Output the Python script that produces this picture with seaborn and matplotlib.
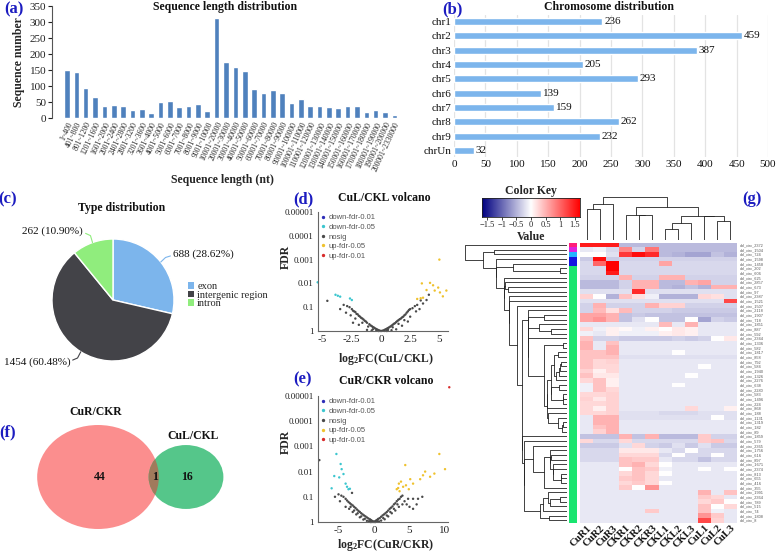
import numpy as np
import pandas as pd
import matplotlib
matplotlib.use("Agg")
import matplotlib.pyplot as plt
import seaborn as sns
from matplotlib.patches import Ellipse, Patch
from matplotlib.lines import Line2D
from matplotlib.colors import LinearSegmentedColormap, ListedColormap

# ---------------- data ----------------
len_bins = ["1~400", "401~800", "801~1200", "1201~1600", "1601~2000", "2001~2400", "2401~2800",
            "2801~3200", "3201~3600", "3601~4000", "4001~5000", "5001~6000", "6001~7000",
            "7001~8000", "8001~9000", "9001~10000", "10001~20000", "20001~30000", "30001~40000",
            "40001~50000", "50001~60000", "60001~70000", "70001~80000", "80001~90000",
            "90001~100000", "100001~110000", "110001~120000", "120001~130000", "130001~140000",
            "140001~150000", "150001~160000", "160001~170000", "170001~180000", "180001~190000",
            "190001~200000", "200001~2330000"]
len_counts = [150, 145, 95, 67, 38, 41, 39, 26, 29, 17, 51, 52, 35, 38, 45, 22, 311, 174, 160, 146,
              90, 78, 86, 78, 47, 60, 38, 39, 35, 32, 36, 36, 20, 24, 18, 8]

chr_names = ["chr1", "chr2", "chr3", "chr4", "chr5", "chr6", "chr7", "chr8", "chr9", "chrUn"]
chr_counts = [236, 459, 387, 205, 293, 139, 159, 262, 232, 32]

type_names = ["exon", "intergenic region", "intron"]
type_counts = [688, 1454, 262]
type_pcts = ["28.62%", "60.48%", "10.90%"]

vol_groups = ["down-fdr-0.01", "down-fdr-0.05", "nosig", "up-fdr-0.05", "up-fdr-0.01"]

d_nosig_lfc = [0, 0.1, -0.1, 0.2, -0.2, 0.3, -0.3, 0.4, -0.4, 0.5, -0.5, 0.6, -0.6, 0.7, -0.7, 0.8, -0.8,
               0.9, -0.9, 1.0, -1.0, 1.1, -1.2, 1.2, 1.3, -1.3, 1.4, -1.4, 1.5, -1.5, 1.6, -1.6, 1.7, -1.7,
               1.8, -1.8, 1.9, -1.9, 2.0, -2.0, 2.1, -2.1, 2.2, -2.2, 2.3, -2.3, 2.4, -2.4, 2.5, -2.5,
               -2.7, 2.7, 2.9, -2.9, 3.1, -3.2, 0.3, -0.4, 0.6, -0.7, 1.0, -1.1, 1.5, -1.6, 2.0, -2.2,
               2.5, -2.6, 3.0, -3.0, 3.3, -3.5, -4.6, 3.4, -1.2, 1.3, -0.2, 0.5, -0.8, 0.9, 1.8, -1.9,
               2.3, -2.4, 3.6, 3.9, 4.1]
d_nosig_fdr = [1, 0.98, 0.97, 0.95, 0.93, 0.9, 0.88, 0.85, 0.83, 0.8, 0.78, 0.75, 0.72, 0.7, 0.68, 0.65,
               0.62, 0.6, 0.58, 0.55, 0.52, 0.5, 0.45, 0.47, 0.42, 0.4, 0.38, 0.37, 0.35, 0.33, 0.32, 0.3,
               0.3, 0.28, 0.27, 0.25, 0.25, 0.23, 0.22, 0.2, 0.2, 0.19, 0.17, 0.16, 0.15, 0.15, 0.13,
               0.14, 0.12, 0.12, 0.1, 0.11, 0.09, 0.09, 0.08, 0.08, 0.99, 0.95, 0.9, 0.85, 0.7, 0.65,
               0.5, 0.45, 0.35, 0.3, 0.25, 0.22, 0.15, 0.17, 0.12, 0.12, 0.054, 0.052, 0.9, 0.85, 1.0,
               1.0, 0.95, 0.93, 0.6, 0.55, 0.4, 0.45, 0.07, 0.05, 0.03]
d_down05_lfc = [-5.43, -3.7, -3.5, -2.66, -2.5, -3.9]
d_down05_fdr = [0.009, 0.033, 0.036, 0.043, 0.05, 0.03]
d_up05_lfc = [3.5, 3.9, 3.6, 3.1, 3.4, 5.0, 4.2, 4.46, 4.6, 5.05, 5.6, 4.9, 5.3]
d_up05_fdr = [0.01, 0.019, 0.04, 0.045, 0.042, 0.001, 0.0095, 0.012, 0.02, 0.024, 0.02, 0.015, 0.035]

e_nosig_lfc = [0, 0.1, -0.1, 0.2, -0.2, 0.3, -0.3, 0.4, -0.4, 0.5, -0.5, 0.6, -0.6, 0.8, -0.8, 1.0, -1.0,
               1.2, -1.2, 1.4, -1.4, 1.6, -1.6, 1.8, -1.8, 2.0, -2.0, 2.2, -2.2, 2.4, -2.4, 2.6, -2.6,
               2.8, -2.8, 3.0, -3.0, 3.2, -3.2, 3.4, -3.4, 3.6, -3.6, 3.8, -3.8, 4.0, -4.0, -4.3, -4.6,
               -5.0, -5.5, 4.3, 4.6, 5.0, -0.5, 0.5, -1.0, 1.0, -1.5, 1.5, -2.0, 2.0, -2.5, 2.5, -3.0,
               3.0, -3.5, 3.5, -4.0, 4.0, 0.7, -0.7, 1.3, -1.3, 1.8, -1.8, 2.3, -2.3, 2.8, -2.8, 3.3,
               -3.3, -7.7, 0.2, -0.3, 5.5, 4.8, -4.8, -3.1, 5.5, 6.2, 6.8, 6.0]
e_nosig_fdr = [1, 0.97, 0.96, 0.92, 0.94, 0.88, 0.9, 0.85, 0.86, 0.8, 0.82, 0.75, 0.78, 0.7, 0.72, 0.62,
               0.66, 0.55, 0.6, 0.5, 0.55, 0.45, 0.5, 0.4, 0.45, 0.35, 0.4, 0.3, 0.36, 0.27, 0.32, 0.24,
               0.28, 0.2, 0.25, 0.18, 0.22, 0.15, 0.2, 0.13, 0.18, 0.12, 0.16, 0.1, 0.14, 0.09, 0.12,
               0.1, 0.09, 0.08, 0.1, 0.15, 0.2, 0.25, 1.0, 0.98, 0.9, 0.88, 0.8, 0.78, 0.65, 0.6, 0.5,
               0.45, 0.4, 0.35, 0.3, 0.25, 0.25, 0.2, 0.95, 0.93, 0.7, 0.75, 0.55, 0.6, 0.4, 0.45, 0.3,
               0.35, 0.2, 0.25, 0.0035, 1.0, 1.0, 0.3, 0.12, 0.15, 0.07, 0.12, 0.12, 0.1, 0.2]
e_down05_lfc = [-5.3, -4.7, -4.56, -4.3, -5.6, -4.9, -3.8, -3.4, -5.97, -4.0, -3.6]
e_down05_fdr = [0.002, 0.005, 0.008, 0.0125, 0.015, 0.017, 0.04, 0.048, 0.046, 0.03, 0.05]
e_up05_lfc = [3.2, 3.5, 3.8, 4.1, 4.5, 5.1, 4.4, 6.9, 7.2, 7.9, 9.2, 6.5, 3.4, 3.6, 4.9, 8.5, 10.0, 5.5]
e_up05_fdr = [0.05, 0.03, 0.025, 0.04, 0.035, 0.02, 0.0055, 0.014, 0.01, 0.016, 0.002, 0.02, 0.045,
              0.06, 0.05, 0.012, 0.008, 0.03]
e_up01_lfc = [10.6]
e_up01_fdr = [0.0000045]

venn_names = ["CuR/CKR", "CuL/CKL"]
venn_only_R, venn_both, venn_only_L = 44, 1, 16

hm_cols = ["CuR1", "CuR2", "CuR3", "CKR1", "CKR2", "CKR3", "CKL1", "CKL2", "CKL3", "CuL1", "CuL2", "CuL3"]
hm_ids = [2372, 1504, 724, 1598, 1458, 202, 606, 625, 2857, 673, 97, 2387, 1521, 1507, 2118, 1907, 718,
          1851, 887, 592, 2344, 1336, 582, 1817, 858, 792, 584, 1940, 1326, 2276, 638, 2280, 583, 1496,
          224, 868, 188, 1131, 1319, 182, 89, 1859, 579, 2365, 1756, 616, 897, 1671, 2374, 813, 655,
          416, 355, 1991, 2364, 789, 515, 74, 1808, 8]
hm_row_cluster = [0, 1, 2, 3, 3] + [4] * 55
hm_values = [
    [1.5, 1.5, 1.5, -0.45, -0.45, -0.45, -0.45, -0.45, -0.45, -0.45, -0.45, -0.45],
    [-0.15, -0.1, -0.25, 0.8, -0.3, 0.9, -0.45, -0.45, -0.45, -0.45, -0.45, -0.45],
    [0.0, 0.0, -0.2, 1.3, 1.6, 1.4, -0.45, -0.5, -0.6, -0.6, -0.4, -0.5],
    [-0.35, 1.6, -0.35, -0.3, -0.3, -0.3, -0.3, -0.3, -0.3, -0.3, -0.3, -0.3],
    [-0.25, 1.0, 1.7, -0.25, -0.25, -0.25, 0.6, -0.25, -0.25, -0.25, -0.25, -0.25],
    [-0.25, -0.25, 1.7, -0.25, -0.25, -0.25, -0.25, -0.25, -0.25, -0.25, -0.25, -0.25],
    [-0.25, -0.25, 1.5, -0.25, -0.25, -0.25, -0.25, -0.25, -0.25, -0.25, -0.25, -0.25],
    [-0.3, -0.3, -0.3, 0.5, -0.3, -0.3, 0.5, 0.5, -0.3, -0.3, -0.3, -0.3],
    [-0.45, -0.45, -0.45, -0.3, 0.5, 0.5, -0.45, -0.45, 0.5, 0.6, -0.3, -0.3],
    [-0.45, -0.45, -0.45, -0.3, 0.5, 0.5, -0.45, -0.5, -0.4, -0.5, 0.5, 0.5],
    [-0.2, -0.2, -0.2, -0.2, 1.4, -0.2, -0.2, -0.2, -0.2, -0.2, -0.2, -0.2],
    [0.3, 0.0, -0.5, 0.4, 0.2, -0.1, -0.5, -0.5, -0.5, 0.25, 0.2, -0.2],
    [-0.2, -0.2, -0.2, -0.2, -0.2, -0.2, -0.2, -0.2, -0.2, -0.2, -0.2, 1.2],
    [-0.3, 0.5, -0.3, -0.3, -0.3, 0.5, 0.3, 0.3, -0.3, -0.3, -0.3, -0.3],
    [-0.3, 0.45, 0.2, 0.45, -0.3, -0.3, -0.3, -0.35, -0.35, -0.35, -0.35, -0.35],
    [0.6, 0.6, 0.5, -0.4, -0.35, -0.4, -0.4, -0.4, -0.4, -0.4, -0.4, -0.4],
    [0.6, 0.7, 0.5, -0.4, -0.2, 0.0, -0.4, -0.4, 0.0, -0.6, -0.3, -0.35],
    [-0.15, -0.15, -0.15, -0.15, -0.15, -0.15, 0.45, -0.15, 0.5, -0.15, -0.15, -0.15],
    [0.25, -0.1, 0.1, 0.05, -0.1, 0.1, 0.0, 0.15, 0.1, -0.15, -0.15, -0.15],
    [-0.1, -0.15, 0.1, -0.1, -0.1, -0.1, 0.1, 0.15, 0.1, -0.15, -0.15, -0.15],
    [0.4, -0.3, -0.3, -0.35, -0.35, -0.35, -0.35, -0.3, -0.35, -0.3, 0.0, 0.15],
    [0.5, -0.15, 0.4, -0.15, -0.15, -0.15, -0.15, -0.15, -0.15, -0.15, -0.15, -0.15],
    [0.5, -0.15, 0.5, -0.15, -0.15, -0.15, -0.15, -0.15, -0.15, -0.15, -0.15, -0.15],
    [0.4, 0.4, 0.5, -0.15, -0.15, -0.15, -0.15, 0.0, -0.15, -0.15, -0.15, -0.15],
    [0.4, 0.4, 0.4, -0.2, -0.2, -0.2, -0.2, -0.2, -0.2, -0.2, -0.2, -0.2],
    [0.4, 0.25, 0.3, -0.15, -0.15, -0.15, -0.15, -0.15, -0.15, -0.15, -0.15, -0.15],
    [0.4, 0.25, 0.25, -0.15, -0.15, -0.15, -0.15, -0.15, -0.15, 0.0, -0.15, -0.15],
    [0.3, 0.1, 0.25, -0.15, -0.15, -0.15, -0.15, -0.15, -0.15, -0.15, -0.15, -0.15],
    [0.4, 0.15, 0.15, -0.15, -0.15, -0.15, -0.15, -0.15, 0.0, -0.15, -0.15, -0.15],
    [0.25, 0.4, 0.1, -0.15, -0.15, -0.15, -0.15, -0.15, -0.15, -0.15, -0.15, -0.15],
    [-0.1, 0.4, 0.1, -0.15, -0.15, -0.15, -0.15, 0.0, -0.15, -0.15, -0.15, -0.15],
    [-0.1, 0.4, 0.25, -0.15, -0.15, -0.15, -0.15, -0.15, -0.15, -0.15, -0.15, -0.15],
    [0.25, 0.25, 0.3, -0.15, -0.15, -0.15, -0.15, -0.15, -0.15, -0.15, -0.15, -0.15],
    [0.3, 0.15, 0.3, -0.15, -0.15, -0.15, -0.15, -0.15, -0.15, -0.15, -0.15, -0.15],
    [0.25, 0.25, 0.3, -0.15, -0.15, -0.15, -0.15, -0.15, -0.15, -0.15, -0.15, -0.15],
    [0.25, 0.1, 0.3, -0.15, -0.15, -0.15, -0.15, -0.15, 0.25, -0.15, -0.15, 0.1],
    [0.25, 0.25, 0.3, -0.2, -0.2, -0.2, -0.25, -0.25, -0.25, -0.2, -0.2, -0.2],
    [-0.15, 0.5, 0.5, -0.2, -0.2, -0.2, -0.2, -0.2, -0.2, -0.2, 0.0, -0.2],
    [-0.15, 0.5, 0.5, -0.15, -0.15, -0.15, -0.15, -0.15, -0.15, -0.15, -0.15, -0.15],
    [-0.15, 0.4, 0.5, -0.15, -0.15, -0.15, -0.15, -0.15, -0.15, -0.15, -0.15, -0.15],
    [-0.15, 0.3, 0.5, -0.15, -0.15, -0.15, -0.15, -0.15, -0.15, -0.15, -0.15, -0.15],
    [-0.4, -0.4, -0.4, 0.5, -0.4, 0.5, -0.45, -0.45, -0.45, 0.35, -0.3, -0.3],
    [0.25, -0.25, -0.25, 0.25, -0.25, -0.25, -0.25, -0.25, -0.25, 0.35, 0.4, -0.25],
    [-0.35, -0.35, -0.35, -0.2, 0.25, -0.3, -0.35, -0.2, -0.35, -0.2, -0.35, -0.35],
    [-0.25, -0.25, -0.25, 0.15, 0.15, 0.15, -0.15, -0.25, 0.0, -0.25, -0.25, -0.25],
    [-0.25, -0.25, -0.25, 0.25, 0.25, 0.25, -0.25, 0.0, -0.25, -0.25, 0.0, -0.25],
    [-0.25, -0.25, -0.25, 0.4, 0.35, 0.35, -0.15, -0.25, -0.25, -0.4, -0.25, -0.25],
    [-0.15, -0.15, -0.15, 0.4, 0.5, 0.25, 0.0, -0.15, -0.15, -0.15, -0.15, -0.15],
    [-0.15, -0.15, -0.15, 0.0, 0.4, 0.35, -0.1, -0.15, -0.15, 0.0, -0.15, 0.0],
    [-0.15, -0.15, -0.15, 0.25, 0.4, 0.25, 0.0, -0.15, -0.15, -0.15, -0.15, -0.15],
    [-0.15, -0.15, -0.15, 0.35, 0.4, 0.25, -0.15, -0.15, -0.15, -0.15, -0.15, -0.15],
    [-0.15, -0.15, -0.15, 0.25, 0.35, 0.25, 0.0, -0.15, -0.15, -0.15, -0.15, -0.15],
    [-0.15, -0.15, -0.15, 0.35, 0.0, 0.7, -0.15, -0.15, -0.15, -0.15, -0.15, -0.15],
    [-0.15, -0.15, -0.15, -0.15, -0.15, -0.15, -0.15, -0.15, -0.15, 0.5, -0.15, 0.4],
    [-0.15, -0.15, -0.15, -0.15, -0.15, -0.15, -0.15, -0.15, -0.15, 0.35, 0.25, -0.15],
    [-0.15, -0.15, -0.15, -0.15, -0.15, -0.15, -0.15, -0.15, -0.15, 0.25, 0.35, 0.0],
    [-0.15, -0.15, -0.15, -0.15, -0.15, -0.15, -0.15, -0.15, -0.15, 0.4, 0.0, 0.25],
    [-0.15, -0.15, -0.15, -0.15, -0.15, 0.35, -0.15, -0.15, -0.15, 0.4, -0.1, -0.15],
    [-0.15, -0.15, -0.15, -0.15, -0.15, -0.15, -0.15, -0.15, -0.15, 0.7, 0.35, -0.15],
    [-0.15, -0.15, -0.15, -0.15, -0.15, -0.15, -0.15, -0.15, -0.15, 1.2, 0.3, -0.15],
]

# ---------------- style ----------------
sns.set_theme(style="white")
plt.rcParams["font.family"] = ["Liberation Serif", "DejaVu Sans"]
plt.rcParams["mathtext.fontset"] = "custom"
plt.rcParams["mathtext.rm"] = "Liberation Serif:bold"
plt.rcParams["mathtext.it"] = "Liberation Serif:bold"
plt.rcParams["mathtext.bf"] = "Liberation Serif:bold"
plt.rcParams["axes.unicode_minus"] = False

W, H = 778, 552
fig = plt.figure(figsize=(W / 100, H / 100), dpi=100, facecolor="white")


def axpx(x0, y0, x1, y1):
    return fig.add_axes([x0 / W, 1 - y1 / H, (x1 - x0) / W, (y1 - y0) / H])


def ftext(x, y, s, **kw):
    fig.text(x / W, 1 - y / H, s, **kw)


LETTER = dict(color="#1c1cc0", fontsize=12, fontweight="bold", ha="center", va="center")
TITLE = dict(fontsize=8.5, fontweight="bold", ha="center", va="center", color="#111")

# ---------------- (a) ----------------
axa = axpx(52, 6, 400, 118)
sns.barplot(x=len_bins, y=len_counts, color="#4F81BD", saturation=1, width=0.6, ax=axa)
axa.set_xlim(-1.6, 35.6)
axa.set_ylim(0, 350)
axa.set_yticks(range(0, 351, 50))
axa.tick_params(axis="y", labelsize=8, length=3, width=0.8, left=True, pad=1, colors="#222")
axa.tick_params(axis="x", labelsize=5.6, length=0, pad=2)
for lab in axa.get_xticklabels():
    lab.set_rotation(65)
    lab.set_ha("right")
    lab.set_rotation_mode("anchor")
for s in ["top", "right", "bottom"]:
    axa.spines[s].set_visible(False)
axa.spines["left"].set_color("#555")
axa.spines["left"].set_linewidth(0.8)
axa.set_ylabel("Sequence number", fontsize=8.5, fontweight="bold")
axa.yaxis.set_label_coords(-0.078, 0.5)
axa.set_xlabel("Sequence length (nt)", fontsize=8.5, fontweight="bold")
axa.xaxis.set_label_coords(0.49, -0.5)
ftext(225, 7, "Sequence length distribution", **TITLE)
ftext(14, 9, "(a)", **LETTER)

# ---------------- (b) ----------------
axb = axpx(454, 15, 768, 157)
sns.barplot(x=chr_counts, y=chr_names, orient="h", color="#7CB5EC", saturation=1, width=0.48, ax=axb)
axb.set_xlim(0, 500)
axb.set_ylim(9.45, -0.45)
axb.set_xticks(range(0, 501, 50))
axb.xaxis.grid(True, color="#E3E3E3", linewidth=0.9)
axb.set_axisbelow(True)
for s in axb.spines.values():
    s.set_visible(False)
axb.tick_params(axis="both", labelsize=8, length=0, pad=2, colors="#111")
axb.set_xlabel("")
axb.set_ylabel("")
for i, v in enumerate(chr_counts):
    axb.text(v + 3, i, str(v), va="center", ha="left", fontsize=8, color="#111")
ftext(609, 7, "Chromosome distribution", **TITLE)
ftext(452, 9, "(b)", **LETTER)

# ---------------- (c) pie ----------------
pie_colors = ["#7CB5EC", "#434348", "#90ED7D"]
axc = axpx(52, 239, 174, 361)
wedges, _ = axc.pie(type_counts, colors=pie_colors, startangle=90, counterclock=False,
                    radius=1, wedgeprops=dict(edgecolor="white", linewidth=1))
axc.set_xlim(-1, 1)
axc.set_ylim(-1, 1)
for w, n, p, col in zip(wedges, type_counts, type_pcts, pie_colors):
    ang = np.deg2rad((w.theta1 + w.theta2) / 2)
    c, s = np.cos(ang), np.sin(ang)
    axc.plot([c * 1.0, c * 1.1, c * 1.1 + np.sign(c) * 0.08], [s * 1.0, s * 1.12, s * 1.16],
             color=col, lw=0.8, clip_on=False)
    axc.text(c * 1.1 + np.sign(c) * 0.12, s * 1.2, f"{n} ({p})", fontsize=8,
             ha="left" if c > 0 else "right", va="center", color="#111", clip_on=False)
handles = [Patch(facecolor=c, edgecolor="none", label=l) for c, l in zip(pie_colors, type_names)]
leg = axc.legend(handles=handles, loc="center left", bbox_to_anchor=(1.08, 0.54), frameon=False,
                 fontsize=7.5, labelspacing=-0.05, handlelength=0.55, handleheight=0.55,
                 handletextpad=0.35, borderaxespad=0)
ftext(122, 208, "Type distribution", **TITLE)
ftext(8, 199, "(c)", **LETTER)

# ---------------- volcano helper ----------------
vol_colors = {"down-fdr-0.01": "#2E2EB8", "down-fdr-0.05": "#3CC6CF", "nosig": "#4A4A4A",
              "up-fdr-0.05": "#EFC22E", "up-fdr-0.01": "#D82B2B"}


def volcano(ax, parts, xlim, xticks, xticklabels, xlabel, ylab_y, xlab_y):
    rows = []
    for g, xs, ys in parts:
        for xv, yv in zip(xs, ys):
            rows.append((g, xv, yv))
    df = pd.DataFrame(rows, columns=["group", "lfc", "fdr"])
    sns.scatterplot(data=df, x="lfc", y="fdr", hue="group", hue_order=vol_groups,
                    palette=vol_colors, s=3, linewidth=0, ax=ax, legend=False, clip_on=False)
    ax.set_yscale("log")
    ax.set_ylim(1, 1e-5)
    ax.set_yticks([1e-5, 1e-4, 1e-3, 1e-2, 1e-1, 1])
    ax.set_yticklabels(["0.00001", "0.0001", "0.001", "0.01", "0.1", "1"])
    ax.minorticks_off()
    ax.set_xlim(*xlim)
    ax.set_xticks(xticks)
    ax.set_xticklabels(xticklabels)
    ax.tick_params(axis="y", labelsize=6.5, length=0, pad=3, colors="#222")
    ax.tick_params(axis="x", labelsize=8, length=0, pad=3, colors="#222")
    for s in ["top", "right"]:
        ax.spines[s].set_visible(False)
    for s in ["left", "bottom"]:
        ax.spines[s].set_color("#666")
        ax.spines[s].set_linewidth(0.8)
    ax.set_facecolor("white")
    ax.set_ylabel("FDR", fontsize=8.5, fontweight="bold")
    ax.yaxis.set_label_coords(-0.2, ylab_y)
    ax.set_xlabel(xlabel, fontsize=8.5, fontweight="bold")
    ax.xaxis.set_label_coords(0.52, xlab_y)
    hs = [Line2D([], [], marker="o", ls="", ms=1.4, color=vol_colors[g], label=g) for g in vol_groups]
    lg = ax.legend(handles=hs, loc="upper left", bbox_to_anchor=(0.0, 1.0), frameon=False,
                   fontsize=5.5, labelspacing=0.3, handletextpad=0.3, handlelength=0.8,
                   borderaxespad=0.15, borderpad=0.1)
    for t in lg.get_texts():
        t.set_color("#555")
        t.set_fontfamily(["Liberation Sans", "DejaVu Sans"])


axd = axpx(318, 212, 448, 331)
volcano(axd, [("nosig", d_nosig_lfc, d_nosig_fdr), ("down-fdr-0.05", d_down05_lfc, d_down05_fdr),
              ("up-fdr-0.05", d_up05_lfc, d_up05_fdr)],
        (-5.4, 5.74), [-5, -2.5, 0, 2.5, 5], ["-5", "-2.5", "0", "2.5", "5"],
        r"log$_{\mathregular{2}}$FC(CuL/CKL)", 0.62, -0.17)
ftext(384, 198, "CuL/CKL volcano", **TITLE)
ftext(303, 199, "(d)", **LETTER)

axe = axpx(318, 396, 448, 522)
volcano(axe, [("nosig", e_nosig_lfc, e_nosig_fdr), ("down-fdr-0.05", e_down05_lfc, e_down05_fdr),
              ("up-fdr-0.05", e_up05_lfc, e_up05_fdr), ("up-fdr-0.01", e_up01_lfc, e_up01_fdr)],
        (-7.89, 10.42), [-5, 0, 5, 10], ["-5", "0", "5", "10"],
        r"log$_{\mathregular{2}}$FC(CuR/CKR)", 0.635, -0.12)
ftext(386, 381, "CuR/CKR volcano", **TITLE)
ftext(303, 379, "(e)", **LETTER)

# ---------------- (f) venn ----------------
axf = axpx(0, 400, 300, 552)
axf.set_xlim(0, 300)
axf.set_ylim(552, 400)
axf.axis("off")
nR = venn_only_R + venn_both
nL = venn_only_L + venn_both
k = 7.75
ryR, ryL = k * np.sqrt(nR), k * np.sqrt(nL)
cR, cL = (98, 477), (186, 477)
eR = Ellipse(cR, 2 * 1.17 * ryR, 2 * ryR, facecolor="#FB8E8E", edgecolor="none")
eL = Ellipse(cL, 2 * 1.17 * ryL, 2 * ryL, facecolor="#55C68A", edgecolor="none")
axf.add_patch(eR)
axf.add_patch(eL)
eO = Ellipse(cL, 2 * 1.17 * ryL, 2 * ryL, facecolor="#A07A5C", edgecolor="none")
axf.add_patch(eO)
eO.set_clip_path(eR)
VT = dict(fontsize=8.5, fontweight="bold", ha="center", va="center", color="#111")
axf.text(cR[0] + 2, cR[1], str(venn_only_R), **VT)
axf.text((cL[0] - 1.17 * ryL + cR[0] + 1.17 * ryR) / 2 + 1, cR[1], str(venn_both), **VT)
axf.text(cL[0] + 1, cL[1], str(venn_only_L), **VT)
axf.text(cR[0] - 2, cR[1] - ryR - 13, venn_names[0], **VT)
axf.text(cL[0] + 7, cL[1] - ryL - 9, venn_names[1], **VT)
ftext(8, 432, "(f)", **LETTER)

# ---------------- (g) heatmap ----------------
M = np.array(hm_values)
nr, nc = M.shape
vmin, vmax = -1.68, 1.68
hm_cmap = LinearSegmentedColormap.from_list("nwr", ["#000080", "#FFFFFF", "#FF0000"])
top, bot = 242.7, 522.7
axh = axpx(580, top, 737, bot)
sns.heatmap(pd.DataFrame(M, index=[f"abl_circ_{i}" for i in hm_ids], columns=hm_cols),
            cmap=hm_cmap, vmin=vmin, vmax=vmax, cbar=False, ax=axh,
            xticklabels=True, yticklabels=True)
axh.yaxis.tick_right()
axh.tick_params(axis="y", labelsize=2.8, length=0, pad=2, labelcolor="#555")
for lab in axh.get_yticklabels():
    lab.set_rotation(0)
    lab.set_fontfamily(["Liberation Sans", "DejaVu Sans"])
axh.tick_params(axis="x", labelsize=7.5, length=0, pad=0.5)
for lab in axh.get_xticklabels():
    lab.set_rotation(45)
    lab.set_ha("right")
    lab.set_va("top")
    lab.set_rotation_mode("anchor")
    lab.set_fontweight("bold")
    lab.set_color("#111")
axh.set_xlabel("")
axh.set_ylabel("")

# row side colors
side_cols = ["#FF1F78", "#DD22DD", "#22B4FF", "#1414E0", "#19E56F"]
axs = axpx(569, top, 577, bot)
sns.heatmap(np.array(hm_row_cluster)[:, None], cmap=ListedColormap(side_cols), vmin=-0.5, vmax=4.5,
            cbar=False, xticklabels=False, yticklabels=False, ax=axs)


def contig_linkage(X):
    D = np.sqrt(((X[:, None, :] - X[None, :, :]) ** 2).sum(-1))
    cl = [dict(m=[i], pos=i + 0.5, h=0.0) for i in range(len(X))]
    segs = []
    while len(cl) > 1:
        best = None
        for j in range(len(cl) - 1):
            d = D[np.ix_(cl[j]["m"], cl[j + 1]["m"])].mean()
            if best is None or d < best[0]:
                best = (d, j)
        d, j = best
        a, b = cl[j], cl[j + 1]
        h = max(d, a["h"], b["h"]) + 1e-9
        segs.append(([a["h"], h, h, b["h"]], [a["pos"], a["pos"], b["pos"], b["pos"]]))
        cl[j:j + 2] = [dict(m=a["m"] + b["m"], pos=(a["pos"] + b["pos"]) / 2, h=h)]
    return segs, cl[0]["h"]


rsegs, rh = contig_linkage(M)
axr = axpx(465, top, 567, bot)
for hs_, ps_ in rsegs:
    axr.plot(hs_, ps_, color="#222", lw=0.6)
axr.set_xlim(rh, 0)
axr.set_ylim(nr, 0)
axr.axis("off")

csegs, ch = contig_linkage(M.T)
axcd = axpx(580, 197, 737, 240)
for hs_, ps_ in csegs:
    axcd.plot(ps_, hs_, color="#222", lw=0.6)
axcd.set_xlim(0, nc)
axcd.set_ylim(0, ch)
axcd.axis("off")

# color key
axk = axpx(482, 198, 580, 217)
grad = np.linspace(vmin, vmax, 256)[None, :]
axk.imshow(grad, cmap=hm_cmap, vmin=vmin, vmax=vmax, aspect="auto", extent=[vmin, vmax, 0, 1])
axk.set_yticks([])
axk.set_xticks([-1.5, -1, -0.5, 0, 0.5, 1, 1.5])
axk.set_xticklabels(["\u22121.5", "\u22121", "\u22120.5", "0", "0.5", "1", "1.5"])
axk.tick_params(axis="x", labelsize=6, length=2, width=0.6, pad=1, bottom=True, colors="#222")
for s in axk.spines.values():
    s.set_color("#222")
    s.set_linewidth(0.6)
axk.set_title("Color Key", fontsize=8.5, fontweight="bold", pad=3)
axk.set_xlabel("Value", fontsize=8.5, fontweight="bold", labelpad=1)
ftext(752, 199, "(g)", **LETTER)

fig.savefig("out.png", dpi=100, facecolor="white")
